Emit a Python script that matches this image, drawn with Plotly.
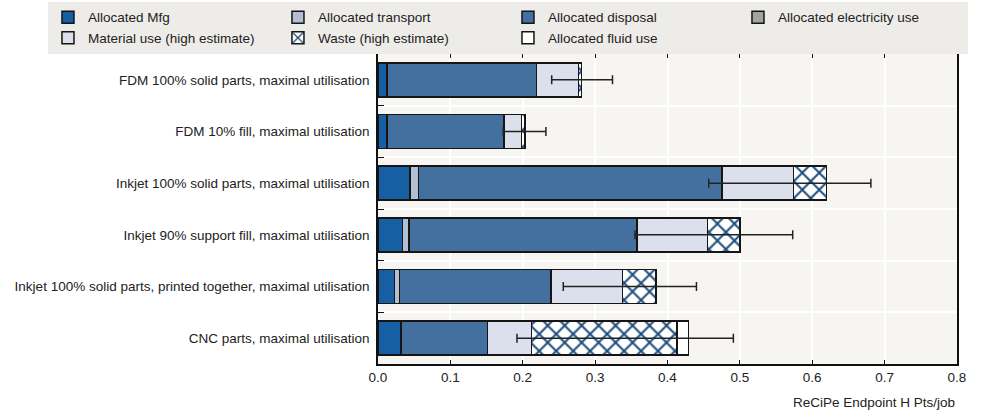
import plotly.graph_objects as go

categories = [
    "FDM 100% solid parts, maximal utilisation",
    "FDM 10% fill, maximal utilisation",
    "Inkjet 100% solid parts, maximal utilisation",
    "Inkjet 90% support fill, maximal utilisation",
    "Inkjet 100% solid parts, printed together, maximal utilisation",
    "CNC parts, maximal utilisation",
]

mfg = [0.012, 0.012, 0.044, 0.034, 0.023, 0.032]
transport = [0.001, 0.001, 0.012, 0.009, 0.007, 0.0]
disposal = [0.206, 0.161, 0.419, 0.315, 0.209, 0.119]
electricity = [0.0, 0.0, 0.0, 0.0, 0.0, 0.0]
material = [0.058, 0.024, 0.099, 0.097, 0.099, 0.061]
waste = [0.004, 0.005, 0.046, 0.045, 0.046, 0.201]
fluid = [0.0, 0.0, 0.0, 0.0, 0.0, 0.016]

err_low = [0.240, 0.173, 0.457, 0.355, 0.256, 0.192]
err_high = [0.324, 0.232, 0.681, 0.573, 0.440, 0.491]

x_ticks = [0.0, 0.1, 0.2, 0.3, 0.4, 0.5, 0.6, 0.7, 0.8]
x_title = "ReCiPe Endpoint H Pts/job"

FONT = "Liberation Sans, Arial, sans-serif"
FS = 13.5
OUTLINE = dict(color="#151515", width=1.5)

fig = go.Figure()

series = [
    ("Allocated Mfg", mfg, "#165fa3", None),
    ("Allocated transport", transport, "#b3bed3", None),
    ("Allocated disposal", disposal, "#44709f", None),
    ("Allocated electricity use", electricity, "#a3a3a3", None),
    ("Material use (high estimate)", material, "#dbe0ec", None),
    ("Waste (high estimate)", waste, "#ffffff", "x"),
    ("Allocated fluid use", fluid, "#ffffff", None),
]

for name, vals, color, pat in series:
    marker = dict(color=color, line=OUTLINE)
    if pat:
        marker["pattern"] = dict(shape="x", fgcolor="#1d4b7c", bgcolor="#ffffff",
                                 size=12, solidity=0.3, fillmode="replace")
    fig.add_trace(go.Bar(
        y=categories, x=vals, name=name, orientation="h",
        marker=marker, width=0.66,
    ))

mid = [(lo + hi) / 2 for lo, hi in zip(err_low, err_high)]
half = [(hi - lo) / 2 for lo, hi in zip(err_low, err_high)]
fig.add_trace(go.Scatter(
    y=categories, x=mid, mode="markers",
    marker=dict(size=1, color="rgba(0,0,0,0)"),
    error_x=dict(type="data", array=half, visible=True,
                 color="#222222", thickness=1.5, width=4.5),
    showlegend=False, hoverinfo="skip",
))

fig.update_layout(
    barmode="stack",
    width=1000, height=416,
    margin=dict(l=378, r=43, t=54, b=52, autoexpand=False),
    paper_bgcolor="#ffffff",
    plot_bgcolor="#f7f5f2",
    font=dict(family=FONT, size=FS, color="#222222"),
    legend=dict(
        orientation="h", x=-0.57, xanchor="left", y=1.168, yanchor="top",
        bgcolor="#eeece9", borderwidth=0,
        entrywidth=185, entrywidthmode="pixels",
        font=dict(family=FONT, size=FS, color="#222222"),
        traceorder="normal", itemwidth=30,
    ),
)

fig.update_xaxes(
    range=[0, 0.8], tickvals=x_ticks, ticktext=[f"{v:.1f}" for v in x_ticks],
    showline=True, linecolor="#111111", linewidth=1.5, mirror="ticks",
    ticks="inside", ticklen=4, tickcolor="#111111",
    showgrid=True, gridcolor="#ffffff", gridwidth=1.5, zeroline=False,
    tickfont=dict(family=FONT, size=FS, color="#222222"),
    automargin=False,
)
fig.update_yaxes(
    categoryorder="array", categoryarray=categories, autorange="reversed",
    showline=True, linecolor="#111111", linewidth=1.5, mirror=True,
    ticks="inside", ticklen=6, tickcolor="#111111", tickson="boundaries",
    showgrid=True, gridcolor="#ffffff", gridwidth=1.5,
    tickfont=dict(family=FONT, size=FS, color="#222222"),
    ticklabelstandoff=4, automargin=False,
)

fig.add_annotation(
    text=x_title, xref="paper", yref="paper", x=1.0, y=-0.095,
    xanchor="right", yanchor="top", showarrow=False,
    font=dict(family=FONT, size=FS, color="#222222"),
)

fig.write_html("out.html", config={"displayModeBar": False},
               post_script="document.body.style.margin='0px';")
